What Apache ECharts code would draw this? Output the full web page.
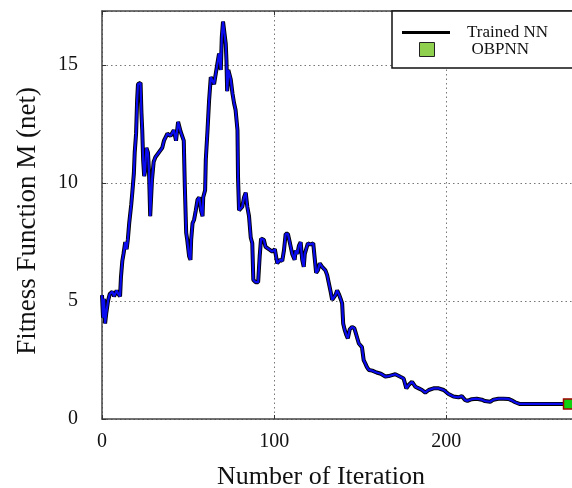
<!DOCTYPE html>
<html>
<head>
<meta charset="utf-8">
<script src="https://cdn.jsdelivr.net/npm/echarts@6/dist/echarts.min.js"></script>
<style>
  html, body { margin: 0; padding: 0; background: #fff; }
  #chart { width: 572px; height: 488px; }
</style>
</head>
<body>
<div id="chart"></div>
<script>
// Fitness of the trained network over the training iterations
const iterations = [
  0, 0.6, 1.2, 1.8, 2.5, 3.5, 4.5, 6, 7, 8.5, 9.5, 10.5, 11, 11.8, 12.5, 13.5, 14.3, 15, 15.8, 17,
  17.6, 18.5, 19, 19.8, 20.4, 20.9, 22.4, 22.9, 23.4, 23.9, 24.5, 25, 25.8, 26.7, 27.3, 28, 29, 30, 31, 33,
  35, 36, 38, 39.8, 41.7, 43, 44.2, 45.6, 47.5, 48.1, 48.9, 49.5, 50.6, 51.4, 51.8, 52.6, 53.5, 54.5, 55.5, 56.5,
  57.5, 58.4, 58.8, 59.9, 60.3, 61.3, 62.2, 63.2, 64.2, 65.1, 66.1, 67.1, 68, 69, 69.6, 70.3, 71.4, 71.9, 72.3, 72.7,
  73.4, 74.2, 74.8, 75.8, 76.7, 77.6, 78.7, 79, 79.6, 80.5, 81.5, 82.5, 83.5, 84.4, 85.4, 86.4, 87.3, 87.9, 89.2, 90.7,
  91.6, 92.4, 94, 95, 96.9, 98.9, 100.4, 101.8, 102.5, 103.5, 104.7, 105.7, 106.7, 108, 109.2, 110.5, 111.9, 112.5, 113.5, 114.4,
  115.4, 116.3, 117.2, 117.8, 118.8, 119.6, 121.1, 122.7, 123.6, 124.4, 125.4, 126.5, 127.9, 128.9, 129.8, 130.8, 131.8, 132.8, 133.7, 134.7,
  135.6, 136.6, 137.6, 138.6, 139.5, 140.1, 140.9, 142, 142.8, 143.9, 145.3, 146.6, 147.8, 149.2, 150, 151, 152, 153, 153.9, 155,
  157, 159.5, 162, 164.6, 166.5, 170.4, 173.3, 175.2, 176.8, 178.1, 180.1, 182, 184, 185.9, 187.8, 189.8, 192.6, 195.6, 198.5, 201.3,
  204.2, 207.1, 209, 211, 212.3, 214.8, 217.7, 220.6, 222.5, 225.5, 227.4, 230.3, 233.2, 236.1, 238, 240, 242.5, 271
];
const fitness = [
  5.25, 4.3, 5.1, 4.05, 4.5, 5.0, 5.3, 5.4, 5.2, 5.45, 5.3, 5.2, 6.0, 6.7, 7.0, 7.5, 7.2, 7.6, 8.3, 9.1,
  9.6, 10.4, 11.3, 12.1, 13.5, 14.2, 14.25, 13.0, 12.2, 11.0, 10.3, 10.5, 11.5, 11.3, 10.5, 8.6, 10.1, 10.9, 11.1, 11.3,
  11.5, 11.8, 12.1, 12.0, 12.25, 11.8, 12.6, 12.2, 11.8, 9.9, 7.9, 7.6, 6.9, 6.75, 7.6, 8.3, 8.45, 8.85, 9.3, 9.4,
  8.85, 8.6, 9.4, 9.7, 11.0, 12.25, 13.5, 14.5, 14.5, 14.2, 14.65, 15.1, 15.5, 14.8, 16.2, 16.85, 16.85, 15.9, 15.2, 13.9,
  14.8, 14.8, 14.4, 13.8, 13.4, 13.1, 12.25, 10.3, 8.85, 8.8, 9.0, 9.4, 9.6, 9.0, 8.6, 7.7, 7.45, 5.9, 5.8, 5.8,
  6.9, 7.65, 7.6, 7.3, 7.2, 7.1, 7.2, 6.6, 6.55, 6.75, 6.7, 7.15, 7.85, 7.85, 7.45, 7.0, 6.75, 7.15, 7.0, 7.35,
  7.5, 6.75, 6.45, 7.0, 7.25, 7.45, 7.4, 7.45, 7.45, 6.2, 6.3, 6.6, 6.45, 6.4, 6.3, 6.1, 5.75, 5.4, 5.05, 5.1,
  5.25, 5.45, 5.3, 5.1, 4.9, 4.05, 3.8, 3.55, 3.42, 3.8, 3.9, 3.85, 3.55, 3.2, 3.15, 3.05, 2.5, 2.35, 2.2, 2.08,
  2.05, 1.97, 1.92, 1.8, 1.82, 1.9, 1.79, 1.72, 1.3, 1.44, 1.58, 1.37, 1.3, 1.23, 1.12, 1.23, 1.3, 1.3, 1.23, 1.06,
  0.95, 0.92, 0.97, 0.8, 0.77, 0.84, 0.86, 0.82, 0.76, 0.73, 0.82, 0.86, 0.86, 0.85, 0.79, 0.71, 0.64, 0.64
];
// Final OBPNN result
const obpnnIteration = [271];
const obpnnFitness = [0.64];

const xTicks = [0, 100, 200];
const yTicks = [0, 5, 10, 15];

const serif = "'Liberation Serif', 'Times New Roman', serif";
const curve = iterations.map((x, i) => [x, fitness[i]]);
const obpnn = obpnnIteration.map((x, i) => [x, obpnnFitness[i]]);

const chart = echarts.init(document.getElementById('chart'));
chart.setOption({
  animation: false,
  backgroundColor: '#fff',
  // the plot area runs past the right edge of the page
  grid: { left: 102, top: 11, width: 482, height: 408, containLabel: false, outerBoundsMode: 'none' },
  xAxis: [{
    type: 'value', min: 0, max: 280, interval: 100,
    axisLine: { show: true, lineStyle: { color: '#444', width: 1.5 } },
    axisTick: { show: true, inside: true, length: 4, lineStyle: { color: '#333' } },
    axisLabel: {
      margin: 13, color: '#111', fontFamily: serif, fontSize: 20,
      formatter: v => (xTicks.includes(v) ? String(v) : '')
    },
    splitLine: { show: true, lineStyle: { color: '#777', type: [1.5, 3], width: 1 } }
  }, {
    type: 'value', position: 'top', min: 0, max: 280, interval: 100,
    axisLine: { show: true, lineStyle: { color: '#444', width: 1.5 } },
    axisTick: { show: true, inside: true, length: 4, lineStyle: { color: '#333' } },
    axisLabel: { show: false },
    splitLine: { show: false }
  }],
  yAxis: {
    type: 'value', min: 0, max: 17.3, interval: 5,
    axisLine: { show: true, lineStyle: { color: '#444', width: 1.5 } },
    axisTick: { show: true, inside: true, length: 4, lineStyle: { color: '#333' } },
    axisLabel: {
      margin: 24, color: '#111', fontFamily: serif, fontSize: 20,
      formatter: v => (yTicks.includes(v) ? String(v) : '')
    },
    splitLine: { show: true, lineStyle: { color: '#777', type: [1.5, 3], width: 1 } }
  },
  legend: [{
    data: [{ name: 'Trained NN', icon: 'rect', itemStyle: { color: '#000' } }],
    left: 402, top: 24, padding: 0, itemWidth: 48, itemHeight: 3, z: 10,
    textStyle: { fontFamily: serif, fontSize: 17, color: '#111', padding: [0, 0, 8, 12] }
  }, {
    data: [{ name: 'OBPNN', icon: 'rect', itemStyle: { color: '#8fd14f', borderColor: '#222', borderWidth: 1 } }],
    left: 419, top: 41, padding: 0, itemWidth: 15, itemHeight: 14, z: 10,
    textStyle: { fontFamily: serif, fontSize: 17, color: '#111', padding: [0, 0, 0, 32] }
  }],
  graphic: [
    { type: 'rect', z: 5, shape: { x: 392, y: 11, width: 200, height: 57 },
      style: { fill: '#fff', stroke: '#111', lineWidth: 1.5 } },
    { type: 'text', x: 321, y: 477, style: {
        text: 'Number of Iteration', font: "26px " + serif, fill: '#111',
        textAlign: 'center', textVerticalAlign: 'middle' } },
    { type: 'text', x: 28, y: 221, rotation: Math.PI / 2, style: {
        text: 'Fitness Function M (net)', font: "27px " + serif, fill: '#111',
        textAlign: 'center', textVerticalAlign: 'middle' } }
  ],
  series: [{
    name: 'Trained NN', type: 'line', data: curve, symbol: 'none',
    lineStyle: { color: '#000', width: 4 }, itemStyle: { color: '#000' }, z: 2
  }, {
    name: 'trace', type: 'line', data: curve, symbol: 'none',
    lineStyle: { color: '#0b0bf0', width: 2.2 }, z: 3
  }, {
    name: 'OBPNN', type: 'scatter', data: obpnn, symbol: 'rect', symbolSize: 10,
    itemStyle: { color: '#10d010', borderColor: '#a00000', borderWidth: 1.5, opacity: 1 }, z: 4
  }]
});
</script>
</body>
</html>
